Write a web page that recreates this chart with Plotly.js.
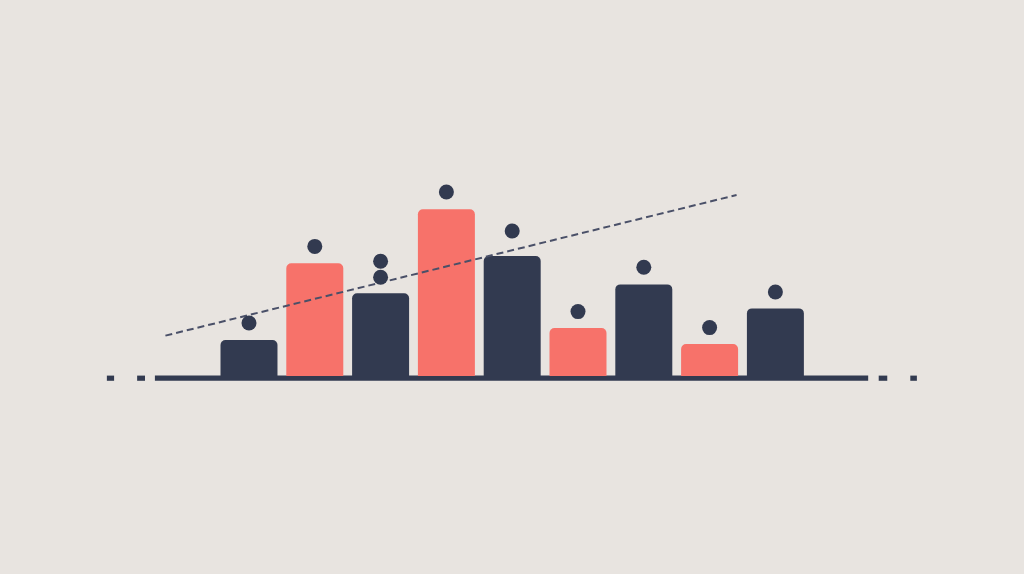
<!DOCTYPE html>
<html>
<head>
<meta charset="utf-8">
<script src="https://cdn.plot.ly/plotly-3.0.1.min.js"></script>
<style>
  html, body { margin: 0; padding: 0; background: #e8e4e0; }
  #chart { width: 1024px; height: 574px; }
</style>
</head>
<body>
<div id="chart"></div>
<script>
// bar values, one per slot
var barX = [0, 1, 2, 3, 4, 5, 6, 7, 8];
var barY = [9, 28.2, 20.7, 41.7, 30, 12, 22.9, 8, 16.9];
var barKind = ['dark', 'red', 'dark', 'red', 'dark', 'red', 'dark', 'red', 'dark'];

// dots above the bars (slot 2 has two)
var dotX = [0, 1, 2, 2, 3, 4, 5, 6, 7, 8];
var dotY = [13.25, 32.4, 28.7, 24.7, 46, 36.25, 16.1, 27.2, 12.1, 21];

// dashed trend line end points
var trendX = [-1.27, 7.41];
var trendY = [10.1, 45.25];

// baseline and the little end dashes
var baseSegs = [[-1.43, 9.41], [-2.16, -2.05], [-1.70, -1.58], [9.57, 9.70], [10.05, 10.15]];

var DARK = '#323a50';
var RED = '#f7726a';
var BG = '#e8e4e0';

var barColors = barKind.map(function (k) { return k == 'red' ? RED : DARK; });

var bars = {
  x: barX,
  y: barY,
  type: 'bar',
  width: 0.866,
  marker: { color: barColors, cornerradius: 5, line: { width: 0 } },
  hoverinfo: 'none'
};

var trend = {
  x: trendX,
  y: trendY,
  mode: 'lines',
  type: 'scatter',
  line: { color: '#4a5068', width: 2, dash: '7px,4px' },
  hoverinfo: 'none'
};

var dots = {
  x: dotX,
  y: dotY,
  mode: 'markers',
  type: 'scatter',
  marker: { color: DARK, size: 15 },
  hoverinfo: 'none'
};

var shapes = baseSegs.map(function (s) {
  return {
    type: 'rect', xref: 'x', yref: 'y',
    x0: s[0], x1: s[1], y0: -1.2, y1: 0.1,
    fillcolor: DARK, line: { width: 0 }, layer: 'below'
  };
});

var layout = {
  width: 1024,
  height: 574,
  margin: { l: 0, r: 0, t: 0, b: 0 },
  paper_bgcolor: BG,
  plot_bgcolor: BG,
  showlegend: false,
  xaxis: { range: [-3.784, 11.778], visible: false, fixedrange: true },
  yaxis: { range: [-49.5, 94], visible: false, fixedrange: true },
  shapes: shapes
};

Plotly.newPlot('chart', [bars, trend, dots], layout, { displayModeBar: false, staticPlot: true });
</script>
</body>
</html>
